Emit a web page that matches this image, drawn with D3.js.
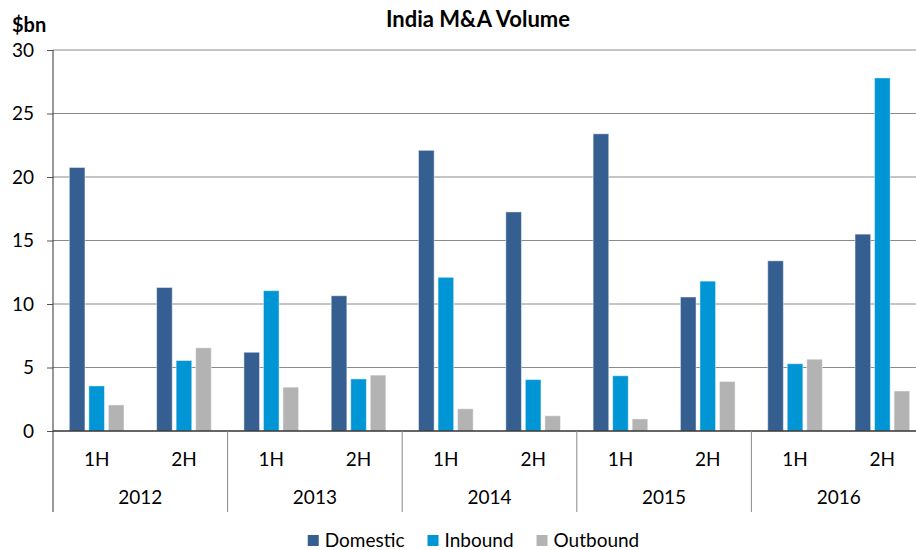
<!DOCTYPE html>
<html lang="en">
<head>
    <meta charset="UTF-8">
    <title>India M&amp;A Volume</title>
    <script src="https://d3js.org/d3.v7.min.js"></script>
    <style>
        body {
            margin: 0;
            background: #fff;
            font-family: Lato, "Open Sans", Arial, sans-serif;
        }
        svg text {
            fill: #000;
        }
    </style>
</head>
<body>
    <svg id="chart"></svg>

    <script>
        // Datos del gráfico ($bn)
        const years = ["2012", "2013", "2014", "2015", "2016"];
        const halves = ["1H", "2H"];
        const seriesNames = ["Domestic", "Inbound", "Outbound"];
        const domestic = [20.75, 11.3, 6.2, 10.65, 22.1, 17.25, 23.4, 10.55, 13.4, 15.5];
        const inbound  = [3.55, 5.55, 11.05, 4.1, 12.1, 4.05, 4.35, 11.8, 5.3, 27.8];
        const outbound = [2.05, 6.55, 3.45, 4.4, 1.75, 1.2, 0.95, 3.9, 5.65, 3.15];
        const yTicks = [0, 5, 10, 15, 20, 25, 30];

        const colors = { Domestic: "#365f91", Inbound: "#0096d6", Outbound: "#b3b3b3" };

        const W = 916, H = 550;
        const margin = { top: 50, left: 53, bottom: 431, right: 926 };

        const svg = d3.select("#chart").attr("width", W).attr("height", H);

        // Categorías: año + semestre
        const cats = [];
        years.forEach(y => halves.forEach(h => cats.push(y + "-" + h)));

        const data = cats.map((c, i) => ({
            cat: c,
            Domestic: domestic[i],
            Inbound: inbound[i],
            Outbound: outbound[i]
        }));

        const x = d3.scaleBand().domain(cats).range([margin.left, margin.right]).padding(0);
        const xYear = d3.scaleBand().domain(years).range([margin.left, margin.right]).padding(0);
        const xInner = d3.scaleBand().domain(seriesNames)
            .range([x.bandwidth() * 0.187, x.bandwidth() * 0.813])
            .paddingInner(0.2);
        const y = d3.scaleLinear().domain([0, 30]).range([margin.bottom, margin.top]);

        // Líneas de cuadrícula
        svg.append("g")
            .selectAll("line")
            .data(yTicks.filter(d => d > 0))
            .join("line")
            .attr("x1", margin.left).attr("x2", W)
            .attr("y1", d => y(d)).attr("y2", d => y(d))
            .attr("stroke", "#8a8a8a")
            .attr("stroke-width", 1);

        // Eje Y
        const yAxis = svg.append("g")
            .attr("transform", "translate(" + margin.left + ",0)")
            .call(d3.axisLeft(y).tickValues(yTicks).tickSize(6).tickPadding(13));
        yAxis.select(".domain").remove();
        yAxis.selectAll(".tick line").attr("stroke", "#555");
        yAxis.selectAll("text")
            .style("font-size", "19px")
            .style("font-family", "Lato, 'Open Sans', sans-serif")
            .attr("fill", "#000");

        // Barras
        svg.append("g")
            .selectAll("g")
            .data(data)
            .join("g")
            .attr("transform", d => "translate(" + x(d.cat) + ",0)")
            .selectAll("rect")
            .data(d => seriesNames.map(k => ({ key: k, value: d[k] })))
            .join("rect")
            .attr("x", d => xInner(d.key))
            .attr("y", d => y(d.value))
            .attr("width", xInner.bandwidth())
            .attr("height", d => y(0) - y(d.value))
            .attr("fill", d => colors[d.key])
            .attr("stroke", "rgba(255,255,255,0.45)")
            .attr("stroke-width", 1);

        // Línea base y eje vertical
        svg.append("line")
            .attr("x1", margin.left).attr("x2", W)
            .attr("y1", y(0)).attr("y2", y(0))
            .attr("stroke", "#333").attr("stroke-width", 1.5);
        svg.append("line")
            .attr("x1", margin.left).attr("x2", margin.left)
            .attr("y1", margin.top).attr("y2", 512)
            .attr("stroke", "#333").attr("stroke-width", 1);

        // Separadores de años
        svg.append("g")
            .selectAll("line")
            .data(years.slice(1))
            .join("line")
            .attr("x1", d => xYear(d)).attr("x2", d => xYear(d))
            .attr("y1", y(0)).attr("y2", 512)
            .attr("stroke", "#8a8a8a");

        // Etiquetas de semestre
        svg.append("g")
            .selectAll("text")
            .data(cats)
            .join("text")
            .attr("x", d => x(d) + x.bandwidth() / 2)
            .attr("y", 466)
            .attr("text-anchor", "middle")
            .style("font-size", "19px")
            .text(d => d.split("-")[1]);

        // Etiquetas de año
        svg.append("g")
            .selectAll("text")
            .data(years)
            .join("text")
            .attr("x", d => xYear(d) + xYear.bandwidth() / 2)
            .attr("y", 504)
            .attr("text-anchor", "middle")
            .style("font-size", "19px")
            .text(d => d);

        // Título
        svg.append("text")
            .attr("x", 478).attr("y", 27)
            .attr("text-anchor", "middle")
            .style("font-size", "22px")
            .style("font-weight", "bold")
            .text("India M&A Volume");

        svg.append("text")
            .attr("x", 12).attr("y", 32)
            .style("font-size", "20px")
            .style("font-weight", "bold")
            .text("$bn");

        // Leyenda
        const legend = svg.append("g");
        let lx = 0;
        seriesNames.forEach(name => {
            const item = legend.append("g").attr("transform", "translate(" + lx + ",0)");
            item.append("rect")
                .attr("x", 0).attr("y", 535)
                .attr("width", 11).attr("height", 11)
                .attr("fill", colors[name]);
            const t = item.append("text")
                .attr("x", 17).attr("y", 547)
                .style("font-size", "19px")
                .text(name);
            lx += 17 + t.node().getComputedTextLength() + 23;
        });
        const legendWidth = lx - 23;
        legend.attr("transform", "translate(" + (473.5 - legendWidth / 2) + ",0)");
    </script>
</body>
</html>
